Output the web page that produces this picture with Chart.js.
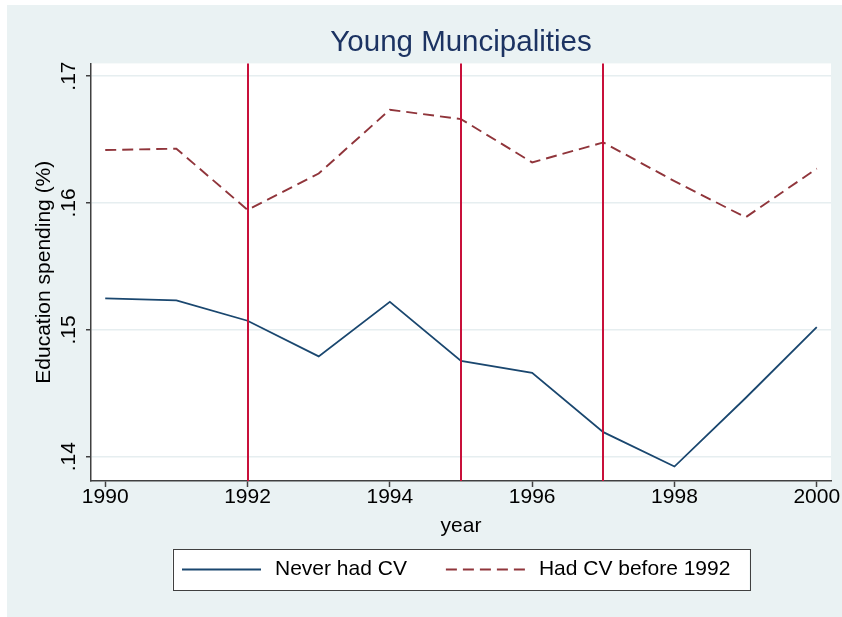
<!DOCTYPE html>
<html>
<head>
<meta charset="utf-8">
<script src="https://cdn.jsdelivr.net/npm/chart.js@4/dist/chart.umd.min.js"></script>
<style>
  html, body { margin: 0; padding: 0; background: #ffffff; }
  #wrap { width: 842px; height: 617px; position: relative; }
</style>
</head>
<body>
<div id="wrap"><canvas id="c" width="842" height="617"></canvas></div>
<script>
// ---- data ----
const years = [1990, 1991, 1992, 1993, 1994, 1995, 1996, 1997, 1998, 1999, 2000];
const neverHadCV = [0.15248, 0.15232, 0.15072, 0.14791, 0.15221, 0.14756, 0.14661, 0.14194, 0.13923, 0.14463, 0.15022];
const hadCVBefore1992 = [0.16417, 0.16428, 0.15946, 0.16232, 0.16735, 0.16661, 0.16320, 0.16477, 0.16172, 0.15887, 0.16271];
const cvYears = [1992, 1995, 1997];
const xTicks = [1990, 1992, 1994, 1996, 1998, 2000];
const yTicks = [0.14, 0.15, 0.16, 0.17];
const yTickLabels = ['.14', '.15', '.16', '.17'];
const seriesLabels = ['Never had CV', 'Had CV before 1992'];
const titleText = 'Young Muncipalities';
const xTitle = 'year';
const yTitle = 'Education spending (%)';

const FONT = "'Liberation Sans', Arial, Helvetica, sans-serif";
const BG = '#EAF2F3';

const bgPlugin = {
  id: 'bg',
  beforeDraw(chart) {
    const {ctx, chartArea: a} = chart;
    ctx.save();
    ctx.fillStyle = '#ffffff';
    ctx.fillRect(0, 0, chart.width, chart.height);
    ctx.fillStyle = BG;
    ctx.fillRect(7, 5, chart.width - 7, chart.height - 5);
    ctx.fillStyle = '#ffffff';
    ctx.fillRect(a.left, a.top, a.right - a.left, a.bottom - a.top);
    ctx.restore();
  }
};

const yLabelPlugin = {
  id: 'yLabels',
  afterDraw(chart) {
    const {ctx} = chart;
    const ys = chart.scales.y;
    ctx.save();
    ctx.fillStyle = '#000000';
    ctx.font = '21px ' + FONT;
    ctx.textAlign = 'center';
    ctx.textBaseline = 'alphabetic';
    yTicks.forEach((v, i) => {
      const py = ys.getPixelForValue(v);
      ctx.save();
      ctx.translate(75, py);
      ctx.rotate(-Math.PI / 2);
      ctx.fillText(yTickLabels[i], 0, 0);
      ctx.restore();
    });
    ctx.restore();
  }
};

const vlinePlugin = {
  id: 'vlines',
  afterDatasetsDraw(chart) {
    const {ctx, chartArea: a} = chart;
    const xs = chart.scales.x;
    ctx.save();
    ctx.strokeStyle = '#C8103A';
    ctx.lineWidth = 2;
    cvYears.forEach(v => {
      const px = Math.round(xs.getPixelForValue(v));
      ctx.beginPath();
      ctx.moveTo(px, a.top);
      ctx.lineTo(px, a.bottom);
      ctx.stroke();
    });
    ctx.restore();
  }
};

const legendBoxPlugin = {
  id: 'legendBox',
  afterDraw(chart) {
    const {ctx, chartArea: a} = chart;
    const cx = (a.left + a.right) / 2;
    const boxW = 577, boxTop = 549, boxH = 41;
    const left = cx - boxW / 2;
    const midY = boxTop + boxH / 2;
    ctx.save();
    ctx.fillStyle = '#ffffff';
    ctx.fillRect(left, boxTop, boxW, boxH);
    ctx.strokeStyle = '#404040';
    ctx.lineWidth = 1;
    ctx.strokeRect(Math.round(left) + 0.5, boxTop + 0.5, boxW, boxH);
    ctx.font = '21px ' + FONT;
    ctx.textBaseline = 'middle';
    ctx.textAlign = 'left';
    let x = left + 9.5;
    chart.data.datasets.forEach((ds, i) => {
      ctx.save();
      ctx.strokeStyle = ds.borderColor;
      ctx.lineWidth = ds.borderWidth;
      ctx.setLineDash(ds.borderDash || []);
      ctx.beginPath();
      ctx.moveTo(x, midY);
      ctx.lineTo(x + 79, midY);
      ctx.stroke();
      ctx.restore();
      x += 79 + 14;
      ctx.fillStyle = '#000000';
      ctx.fillText(ds.label, x, midY);
      x += ctx.measureText(ds.label).width + 39;
    });
    ctx.restore();
  }
};

const toXY = arr => years.map((yr, i) => ({x: yr, y: arr[i]}));

new Chart(document.getElementById('c'), {
  type: 'line',
  data: {
    datasets: [
      {
        label: seriesLabels[0],
        data: toXY(neverHadCV),
        borderColor: '#1A476F',
        borderWidth: 1.8,
        pointRadius: 0,
        tension: 0,
        fill: false
      },
      {
        label: seriesLabels[1],
        data: toXY(hadCVBefore1992),
        borderColor: '#90353B',
        borderWidth: 1.9,
        borderDash: [11, 6],
        pointRadius: 0,
        tension: 0,
        fill: false
      }
    ]
  },
  options: {
    responsive: false,
    animation: false,
    devicePixelRatio: 1,
    layout: { padding: { top: 0, left: 0, right: 11, bottom: 76 } },
    plugins: {
      legend: { display: false },
      tooltip: { enabled: false },
      title: {
        display: true,
        text: titleText,
        fullSize: false,
        color: '#1C3362',
        font: { family: FONT, size: 29.5, weight: 'normal' },
        padding: { top: 25.5, bottom: 2.5 }
      }
    },
    scales: {
      x: {
        type: 'linear',
        min: 1989.8,
        max: 2000.2,
        afterBuildTicks: s => { s.ticks = xTicks.map(v => ({value: v})); },
        afterFit: s => { s.height = 60; },
        grid: { drawOnChartArea: false, drawTicks: true, tickLength: 6, tickColor: '#404040', tickWidth: 1.5 },
        border: { display: true, color: '#404040', width: 1.5 },
        ticks: {
          color: '#000000',
          font: { family: FONT, size: 21, lineHeight: 1.0 },
          padding: 0,
          maxRotation: 0,
          autoSkip: false,
          callback: v => String(v)
        },
        title: {
          display: true,
          text: xTitle,
          color: '#000000',
          font: { family: FONT, size: 21, lineHeight: 1.2 },
          padding: { top: 0, bottom: 1.7 }
        }
      },
      y: {
        type: 'linear',
        min: 0.13809,
        max: 0.1710,
        afterBuildTicks: s => { s.ticks = yTicks.map(v => ({value: v})); },
        afterFit: s => { s.width = 91; },
        grid: { drawOnChartArea: true, color: '#E6EEF0', lineWidth: 1.5, drawTicks: true, tickLength: 5, tickColor: '#404040', tickWidth: 1.5 },
        border: { display: true, color: '#404040', width: 1.5 },
        ticks: { display: false },
        title: {
          display: true,
          text: yTitle,
          color: '#000000',
          font: { family: FONT, size: 21, lineHeight: 1.2 },
          padding: { top: 32, bottom: 0 }
        }
      }
    }
  },
  plugins: [bgPlugin, vlinePlugin, yLabelPlugin, legendBoxPlugin]
});
</script>
</body>
</html>
